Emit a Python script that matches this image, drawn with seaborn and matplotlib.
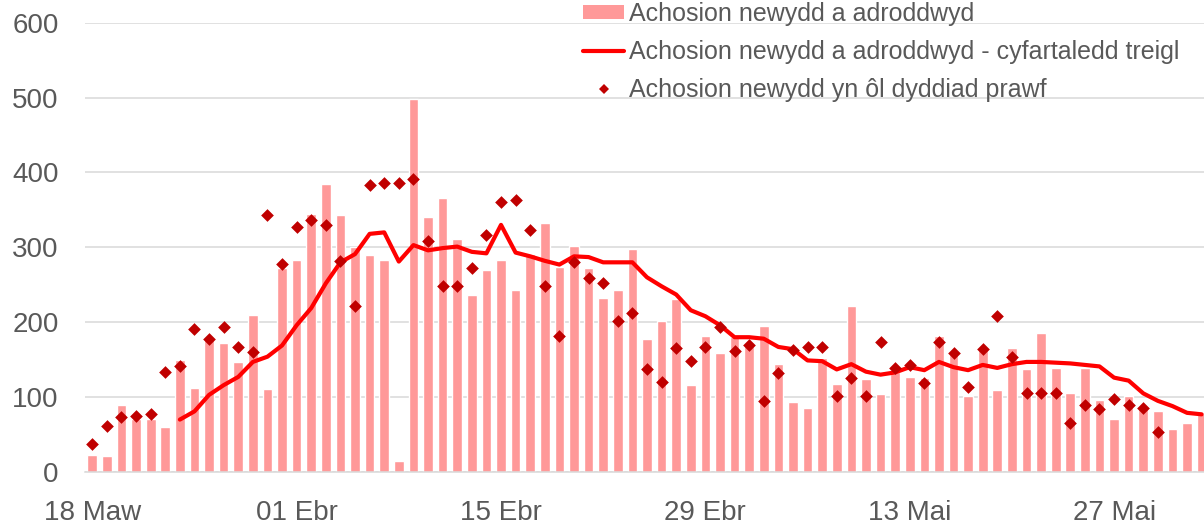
import numpy as np
import pandas as pd
import matplotlib
matplotlib.use("Agg")
import matplotlib.pyplot as plt
from matplotlib.patches import Patch
from matplotlib.lines import Line2D
import seaborn as sns

# ---------------- data ----------------
start_date = "2020-03-18"
end_date = "2020-06-02"

reported = [23, 21, 90, 71, 71, 60, 149, 112, 178, 172, 147, 210, 111, 273,
            283, 344, 385, 343, 301, 290, 283, 15, 498, 341, 366, 311, 236, 270,
            283, 243, 291, 333, 274, 302, 273, 233, 243, 298, 177, 202, 231, 116,
            182, 159, 180, 172, 195, 144, 94, 86, 152, 117, 222, 124, 104, 133,
            127, 125, 182, 161, 102, 165, 110, 165, 138, 185, 139, 105, 139, 96,
            71, 101, 87, 81, 57, 66, 78]

rolling_avg = [None, None, None, None, None, None,
               70, 81, 103, 116, 127, 147, 154, 169,
               196, 219, 252, 280, 291, 318, 320, 281, 303, 296, 299, 301, 294, 292,
               330, 293, 288, 282, 277, 288, 287, 280, 280, 280, 260, 248, 237, 216,
               208, 196, 180, 180, 178, 167, 164, 149, 148, 137, 144, 134, 130, 133,
               140, 136, 147, 140, 136, 143, 139, 144, 147, 147, 146, 145, 143, 141,
               126, 122, 105, 95, 88, 79, 77]

by_test_date = [37, 61, 73, 75, 77, 133, 141, 191, 178, 193, 167, 160, 343, 278,
                327, 337, 330, 282, 222, 383, 386, 386, 391, 309, 248, 248, 273, 317,
                361, 363, 323, 249, 181, 280, 259, 253, 201, 212, 138, 120, 166, 148,
                167, 194, 162, 169, 95, 132, 163, 167, 167, 102, 125, 102, 173, 139,
                143, 119, 174, 159, 113, 164, 208, 153, 106, 106, 106, 66, 90, 84,
                98, 90, 86, 53, None, None, None]

tick_dates = ["2020-03-18", "2020-04-01", "2020-04-15", "2020-04-29", "2020-05-13", "2020-05-27"]
tick_labels = ["18 Maw", "01 Ebr", "15 Ebr", "29 Ebr", "13 Mai", "27 Mai"]

series_labels = ["Achosion newydd a adroddwyd",
                 "Achosion newydd a adroddwyd - cyfartaledd treigl",
                 "Achosion newydd yn ôl dyddiad prawf"]

# ---------------- build frame ----------------
dates = pd.date_range(start_date, end_date, freq="D")
df = pd.DataFrame({
    "date": dates,
    "reported": reported,
    "rolling": pd.to_numeric(pd.Series(rolling_avg), errors="coerce"),
    "test": pd.to_numeric(pd.Series(by_test_date), errors="coerce"),
})
df["day"] = (df["date"] - df["date"].iloc[0]).dt.days

BAR_C = "#FF9999"
LINE_C = "#FF0000"
DOT_C = "#C00000"
TEXT_C = "#595959"
GRID_C = "#D9D9D9"

sns.set_theme(style="white")
plt.rcParams["font.family"] = ["Liberation Sans", "DejaVu Sans"]

W, H = 1204, 524
fig = plt.figure(figsize=(W / 100, H / 100), dpi=100)
ax = fig.add_axes([85 / W, 52 / H, (W - 85) / W, (472 - 22.7) / H])

sns.barplot(data=df, x="day", y="reported", native_scale=True, color=BAR_C,
            saturation=1, width=0.66, errorbar=None, ax=ax, zorder=2)
sns.lineplot(data=df, x="day", y="rolling", color=LINE_C, linewidth=3.0,
             ax=ax, zorder=3, solid_joinstyle="round", solid_capstyle="round")
sns.scatterplot(data=df, x="day", y="test", marker="D", color=DOT_C, s=42,
                linewidth=0, ax=ax, zorder=4)

ax.set_xlim(-0.5, 76.16)
ax.set_ylim(0, 600)
ax.set_yticks(range(0, 601, 100))
tick_pos = [(pd.Timestamp(d) - dates[0]).days for d in tick_dates]
ax.set_xticks(tick_pos)
ax.set_xticklabels(tick_labels)
ax.set_xlabel("")
ax.set_ylabel("")

ax.grid(axis="y", color=GRID_C, linewidth=1.1, zorder=0)
ax.grid(axis="x", visible=False)
ax.set_axisbelow(True)
for s in ["top", "right", "left"]:
    ax.spines[s].set_visible(False)
ax.spines["bottom"].set_color(GRID_C)
ax.spines["bottom"].set_linewidth(1.1)
ax.tick_params(axis="both", length=0, labelsize=20, colors=TEXT_C)
ax.tick_params(axis="y", pad=19)
ax.tick_params(axis="x", pad=20)

handles = [
    Patch(facecolor=BAR_C, edgecolor="none"),
    Line2D([], [], color=LINE_C, linewidth=3.0, solid_capstyle="round"),
    Line2D([], [], color=DOT_C, marker="D", linestyle="none", markersize=5.5,
           markeredgewidth=0),
]
leg = fig.legend(handles, series_labels, loc="upper left",
                 bbox_to_anchor=(583 / W, 1 - 2 / H), frameon=False,
                 fontsize=18, labelcolor=TEXT_C, handlelength=1.65,
                 handleheight=0.5, handletextpad=0.2, labelspacing=0.56,
                 borderpad=0, borderaxespad=0)

fig.savefig("out.png", dpi=100)
